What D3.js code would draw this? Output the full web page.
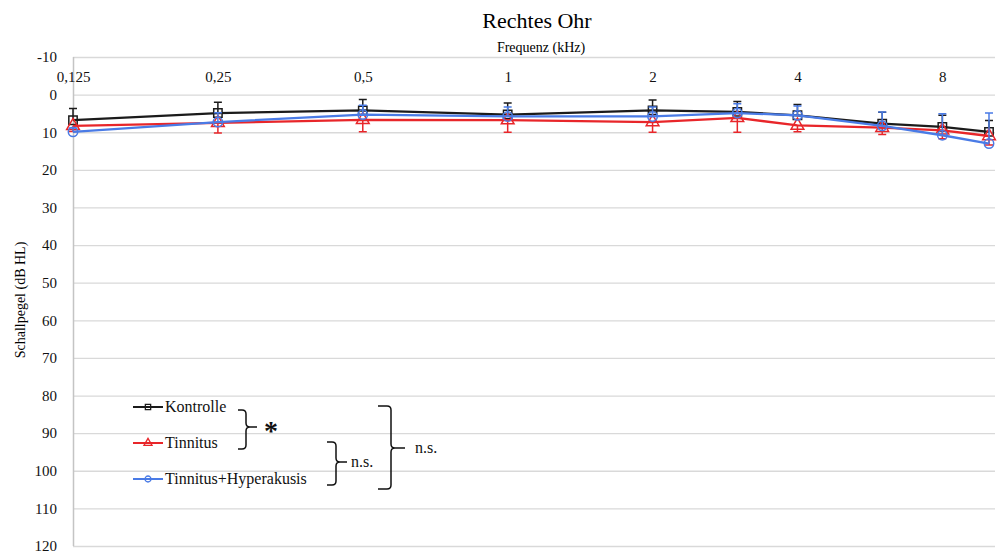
<!DOCTYPE html>
<html>
<head>
<meta charset="utf-8">
<script src="https://cdn.jsdelivr.net/npm/d3@7"></script>
<style>
    body { margin: 0; background: #fff; }
    svg { display: block; }
</style>
</head>
<body>
<svg id="chart" width="998" height="551" font-family="Liberation Serif, Times New Roman, serif"></svg>
<script>
// frequencies in kHz, only octaves get a label
var freqs = [0.125, 0.25, 0.5, 1, 2, 3, 4, 6, 8, 10],
    freqTicks = [0.125, 0.25, 0.5, 1, 2, 4, 8],
    yTicks = d3.range(-10, 121, 10);

var kontrolle = [6.8, 4.9, 4.2, 5.3, 4.2, 4.6, 5.5, 7.7, 8.6, 9.9],
    tinnitus = [8.3, 7.5, 6.7, 6.8, 7.3, 6.2, 8.2, 8.8, 9.5, 11.0],
    hyperakusis = [9.9, 7.3, 5.3, 5.8, 5.8, 4.9, 5.5, 8.3, 10.8, 13.0];

// one-sided error bars as drawn in the figure
var kontrolleErr = [3.1, 2.9, 2.9, 3.1, 2.8, 2.8, 2.9, 3.0, 3.1, 3.0],
    tinnitusErr = [1.5, 2.7, 3.2, 3.2, 2.7, 3.8, 1.7, 1.8, 2.2, 2.4],
    hyperakusisErr = [1.0, 2.5, 2.5, 2.5, 2.5, 2.5, 2.5, 3.7, 5.7, 8.1];

var series = [
    {name: 'Kontrolle', values: kontrolle, err: kontrolleErr, dir: -1, color: '#1b1b1b', symbol: d3.symbolSquare},
    {name: 'Tinnitus', values: tinnitus, err: tinnitusErr, dir: 1, color: '#e8262a', symbol: d3.symbolTriangle},
    {name: 'Tinnitus+Hyperakusis', values: hyperakusis, err: hyperakusisErr, dir: -1, color: '#4a7be6', symbol: d3.symbolCircle}
];

var svg = d3.select('#chart'),
    plotLeft = 73, plotRight = 989, plotTop = 57, plotBottom = 546,
    font = 'Liberation Serif, Times New Roman, serif',
    grid_color = '#d9d9d9';

var x = d3.scaleLog().base(2).domain([0.125, 10]).range([plotLeft, plotRight]),
    y = d3.scaleLinear().domain([-10, 120]).range([plotTop, plotBottom]);

// titles
svg.append('text')
    .attr('x', 537).attr('y', 28)
    .attr('text-anchor', 'middle')
    .attr('font-family', font)
    .attr('font-size', 22)
    .text('Rechtes Ohr');

svg.append('text')
    .attr('x', 541).attr('y', 52)
    .attr('text-anchor', 'middle')
    .attr('font-family', font)
    .attr('font-size', 14)
    .text('Frequenz (kHz)');

svg.append('text')
    .attr('transform', 'translate(25,300) rotate(-90)')
    .attr('text-anchor', 'middle')
    .attr('font-family', font)
    .attr('font-size', 14)
    .text('Schallpegel (dB HL)');

// horizontal grid
svg.append('g')
    .selectAll('line').data(yTicks).enter().append('line')
    .attr('x1', plotLeft).attr('x2', 995)
    .attr('y1', d => y(d) + 0.5).attr('y2', d => y(d) + 0.5)
    .attr('stroke', grid_color)
    .attr('stroke-width', 1.3);

svg.append('line')
    .attr('x1', plotLeft + 0.5).attr('x2', plotLeft + 0.5)
    .attr('y1', plotTop).attr('y2', plotBottom)
    .attr('stroke', '#c4c4c4')
    .attr('stroke-width', 1.5);

// y axis labels (plain hyphen for the minus, like the source)
var yAxis = d3.axisLeft(y).tickValues(yTicks).tickSize(0).tickPadding(16)
    .tickFormat(d => String(d));
svg.append('g')
    .attr('transform', 'translate(' + plotLeft + ',0)')
    .call(yAxis)
    .call(g => g.select('.domain').remove())
    .attr('font-family', font)
    .selectAll('text')
    .attr('font-size', 15)
    .attr('fill', '#111');

// x axis labels, sitting just under the -10 line
var xAxis = d3.axisTop(x).tickValues(freqTicks).tickSize(0).tickPadding(0)
    .tickFormat(d => String(d).replace('.', ','));
svg.append('g')
    .attr('transform', 'translate(0,82)')
    .call(xAxis)
    .call(g => g.select('.domain').remove())
    .attr('font-family', font)
    .selectAll('text')
    .attr('font-size', 15)
    .attr('fill', '#111');

var line = d3.line()
    .x((d, i) => x(freqs[i]))
    .y(d => y(d));

series.forEach(function(s) {
    var g = svg.append('g').attr('class', 'series');

    // error bars
    g.selectAll('.err').data(s.values).enter().append('path')
        .attr('class', 'err')
        .attr('stroke', s.color)
        .attr('stroke-width', 1.5)
        .attr('fill', 'none')
        .attr('d', function(d, i) {
            var px = x(freqs[i]), y0 = y(d), y1 = y(d + s.dir * s.err[i]);
            return 'M' + px + ',' + y0 + 'V' + y1 + 'M' + (px - 4) + ',' + y1 + 'H' + (px + 4);
        });

    g.append('path')
        .attr('d', line(s.values))
        .attr('fill', 'none')
        .attr('stroke', s.color)
        .attr('stroke-width', 2.3);

    g.selectAll('.mark').data(s.values).enter().append('path')
        .attr('class', 'mark')
        .attr('transform', (d, i) => 'translate(' + x(freqs[i]) + ',' + y(d) + ')')
        .attr('d', d3.symbol(s.symbol, 70))
        .attr('fill', 'none')
        .attr('stroke', s.color)
        .attr('stroke-width', 1.5);
});

// legend
var legendY = [407, 443, 479];
var legend = svg.append('g').selectAll('g').data(series).enter().append('g')
    .attr('transform', (d, i) => 'translate(133,' + legendY[i] + ')');

legend.append('line')
    .attr('x1', 0).attr('x2', 30)
    .attr('stroke', d => d.color)
    .attr('stroke-width', 2);

legend.append('path')
    .attr('transform', 'translate(15,0)')
    .attr('d', d => d3.symbol(d.symbol, 28)())
    .attr('fill', 'none')
    .attr('stroke', d => d.color)
    .attr('stroke-width', 1.3);

legend.append('text')
    .attr('x', 32).attr('dy', '0.32em')
    .attr('font-family', font)
    .attr('font-size', 16)
    .attr('fill', '#111')
    .text(d => d.name);

// significance brackets: x0 = left end, x1 = spine, ys = top/mid/bottom
function bracket(x0, x1, y0, ym, y1, tick) {
    var r = 4;
    return 'M' + x0 + ',' + y0 + 'H' + (x1 - r) + 'Q' + x1 + ',' + y0 + ' ' + x1 + ',' + (y0 + r)
        + 'V' + (ym - r) + 'Q' + x1 + ',' + ym + ' ' + (x1 + r) + ',' + ym + 'H' + tick
        + 'M' + (x1 + r) + ',' + ym + 'Q' + x1 + ',' + ym + ' ' + x1 + ',' + (ym + r)
        + 'V' + (y1 - r) + 'Q' + x1 + ',' + y1 + ' ' + (x1 - r) + ',' + y1 + 'H' + x0;
}

var brackets = [
    {d: bracket(238, 246, 410, 427, 449, 257), label: '*', lx: 264, ly: 440, size: 28, weight: 'bold'},
    {d: bracket(327, 336, 442, 462, 485, 347), label: 'n.s.', lx: 351, ly: 467, size: 16, weight: 'normal'},
    {d: bracket(378, 391, 406, 448, 489, 405), label: 'n.s.', lx: 415, ly: 453, size: 16, weight: 'normal'}
];

var br = svg.append('g').selectAll('g').data(brackets).enter().append('g');
br.append('path')
    .attr('d', d => d.d)
    .attr('fill', 'none')
    .attr('stroke', '#111')
    .attr('stroke-width', 1.5);
br.append('text')
    .attr('x', d => d.lx).attr('y', d => d.ly)
    .attr('font-family', font)
    .attr('font-size', d => d.size)
    .attr('font-weight', d => d.weight)
    .attr('fill', '#111')
    .text(d => d.label);
</script>
</body>
</html>
